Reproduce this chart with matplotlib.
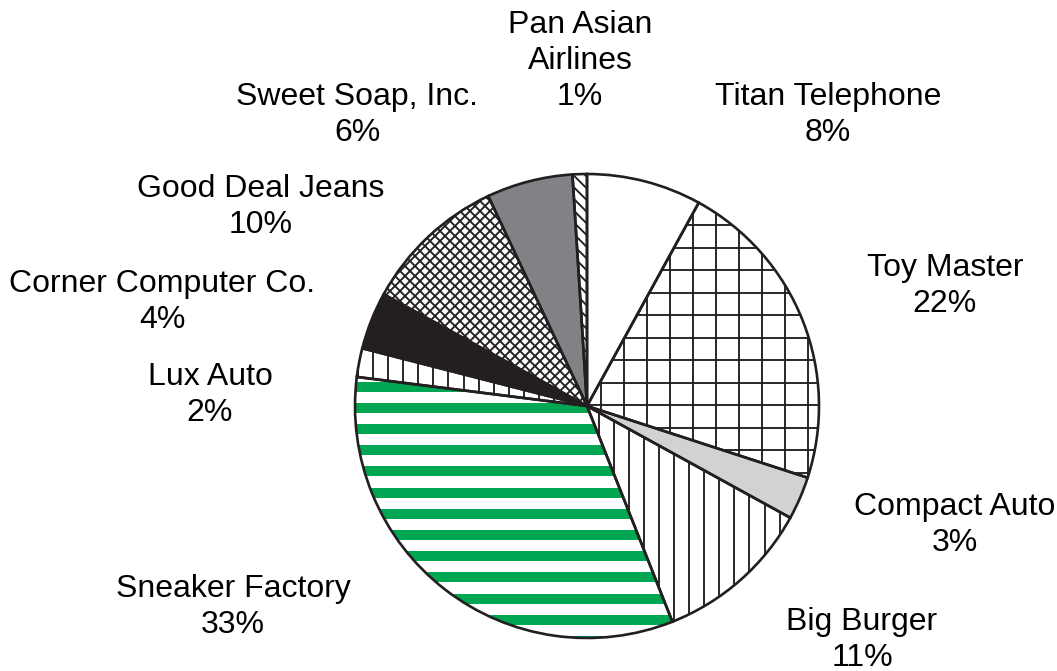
import numpy as np
import matplotlib
matplotlib.use('Agg')
from matplotlib import pyplot as plt
from matplotlib.collections import LineCollection
from matplotlib.patches import Rectangle

# Data (clockwise from 12 o'clock)
companies = ['Titan Telephone', 'Toy Master', 'Compact Auto', 'Big Burger', 'Sneaker Factory',
             'Lux Auto', 'Corner Computer Co.', 'Good Deal Jeans', 'Sweet Soap, Inc.', 'Pan Asian\nAirlines']
shares = [8, 22, 3, 11, 33, 2, 4, 10, 6, 1]

# Styles of each slice
fills = ['white', 'white', '#d1d2d4', 'white', 'white', 'white', '#231f20', 'white', '#808285', 'white']
patterns = [None, 'grid', None, 'vert', 'stripes', 'vert', None, 'cross', None, 'diag']
green = '#00a651'

# Layout (pixels, y measured from the bottom)
W, H = 1057, 671
center = (587, H - 406)
radius = 232
label_pos = [(828, 115), (945, 286), (955, 525), (862, 640), (233, 607),
             (210, 395), (162, 302), (261, 207), (357, 115), (580, 61)]
lw_edge = 1.9
lw_hatch = 1.35


def hatch_artists(kind):
    x0, x1 = center[0] - radius - 30, center[0] + radius + 30
    y0, y1 = center[1] - radius - 30, center[1] + radius + 30
    segs = []
    if kind in ('grid', 'vert'):
        step = 23 if kind == 'grid' else 15.05
        ref = 692.7 if kind == 'grid' else 614
        k0 = int(np.floor((x0 - ref) / step))
        for k in range(k0, k0 + int((x1 - x0) / step) + 2):
            x = ref + k * step
            segs.append([(x, y0), (x, y1)])
    if kind == 'grid':
        ref = H - 225
        k0 = int(np.floor((y0 - ref) / 22.5))
        for k in range(k0, k0 + int((y1 - y0) / 22.5) + 2):
            y = ref + k * 22.5
            segs.append([(x0, y), (x1, y)])
    if kind in ('cross', 'diag'):
        step = 10 if kind == 'cross' else 11.7
        span = (x1 - x0) + (y1 - y0)
        for c in np.arange(-span, span, step):
            # down-right lines (image sense)
            segs.append([(x0, y1 - c), (x1, y1 - c - (x1 - x0))])
            if kind == 'cross':
                segs.append([(x0, y0 + c), (x1, y0 + c + (x1 - x0))])
    arts = []
    if segs:
        arts.append(LineCollection(segs, colors='#231f20', linewidths=lw_hatch, zorder=2))
    if kind == 'stripes':
        top = H - 424
        period = 21.2
        k0 = int(np.floor((y0 - top) / period))
        for k in range(k0, k0 + int((y1 - y0) / period) + 2):
            yb = top + k * period - 10
            arts.append(Rectangle((x0, yb), x1 - x0, 10, facecolor=green, edgecolor='none', zorder=2))
    return arts


plt.rcParams['font.family'] = ['Liberation Sans', 'DejaVu Sans']
fig = plt.figure(figsize=(W / 100, H / 100), dpi=100)
ax = fig.add_axes([0, 0, 1, 1])

wedges, _ = ax.pie(shares, colors=fills, startangle=90, counterclock=False,
                   center=center, radius=radius, frame=True,
                   wedgeprops={'linewidth': 0, 'edgecolor': 'none'})
for w, kind in zip(wedges, patterns):
    if kind is None:
        continue
    for art in hatch_artists(kind):
        if isinstance(art, Rectangle):
            ax.add_patch(art)
        else:
            ax.add_collection(art)
        art.set_clip_path(w)

# outlines on top of the hatching
ax.pie(shares, startangle=90, counterclock=False, center=center, radius=radius, frame=True,
       wedgeprops={'fill': False, 'linewidth': lw_edge, 'edgecolor': '#231f20', 'zorder': 3})

for name, share, (lx, ly) in zip(companies, shares, label_pos):
    ax.text(lx, H - ly, f'{name}\n{share}%', ha='center', va='center', multialignment='center',
            fontsize=23, color='black', linespacing=1.27)

ax.set_xlim(0, W)
ax.set_ylim(0, H)
ax.set_aspect('auto')
ax.axis('off')

fig.savefig('out.png', dpi=100)
